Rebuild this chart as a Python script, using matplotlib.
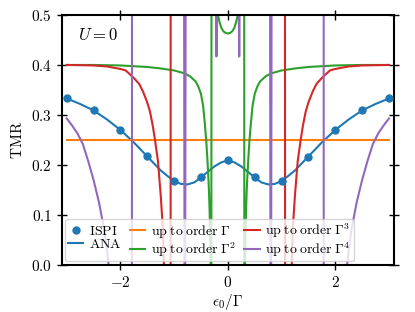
import matplotlib
matplotlib.use('Agg')
import matplotlib.pyplot as plt
from matplotlib.ticker import FuncFormatter

plt.rcParams['font.family'] = 'serif'
plt.rcParams['font.serif'] = ['cmr10']
plt.rcParams['mathtext.fontset'] = 'cm'
plt.rcParams['axes.unicode_minus'] = False

# --- данные ---
ispi_x = [-3.0, -2.5, -2.0, -1.5, -1.0, -0.5, 0.0, 0.5, 1.0, 1.5, 2.0, 2.5, 3.0]
ispi_y = [0.333, 0.309, 0.270, 0.217, 0.167, 0.175, 0.209, 0.175, 0.167, 0.216, 0.270, 0.309, 0.333]

ana_x = [-3.0, -2.75, -2.5, -2.25, -2.0, -1.75, -1.5, -1.25, -1.125, -1.0, -0.875, -0.75, -0.625,
         -0.5, -0.375, -0.25, -0.125, 0.0, 0.125, 0.25, 0.375, 0.5, 0.625, 0.75, 0.875, 1.0,
         1.125, 1.25, 1.5, 1.75, 2.0, 2.25, 2.5, 2.75, 3.0]
ana_y = [0.333, 0.322, 0.309, 0.291, 0.270, 0.245, 0.217, 0.189, 0.178, 0.168, 0.162, 0.161, 0.165,
         0.175, 0.186, 0.197, 0.205, 0.209, 0.205, 0.197, 0.186, 0.175, 0.165, 0.161, 0.162, 0.168,
         0.178, 0.189, 0.217, 0.245, 0.270, 0.291, 0.309, 0.322, 0.333]

o1_x = [-3.0, 3.0]
o1_y = [0.25, 0.25]

o2_x = [-3.0, -2.5, -2.0, -1.5, -1.25, -1.0, -0.8, -0.7, -0.6, -0.55, -0.5, -0.46, -0.43, -0.40,
        -0.38, -0.36, -0.35, -0.34, -0.33, -0.32, -0.31, -0.30, -0.25, -0.2, -0.186, -0.15, -0.12,
        -0.08, -0.04, 0.0, 0.04, 0.08, 0.12, 0.15, 0.186, 0.2, 0.25, 0.30, 0.31, 0.32, 0.33, 0.34,
        0.35, 0.36, 0.38, 0.40, 0.43, 0.46, 0.5, 0.55, 0.6, 0.7, 0.8, 1.0, 1.25, 1.5, 2.0, 2.5, 3.0]
o2_y = [0.400, 0.400, 0.399, 0.396, 0.393, 0.389, 0.383, 0.377, 0.367, 0.357, 0.342, 0.318, 0.285,
        0.245, 0.21, 0.17, 0.145, 0.11, 0.07, 0.0, -1.0, 2.0, 0.75, 0.54, 0.5, 0.484, 0.474,
        0.467, 0.464, 0.463, 0.464, 0.467, 0.474, 0.484, 0.5, 0.54, 0.75, 2.0, -1.0, 0.0, 0.07, 0.11,
        0.145, 0.17, 0.21, 0.245, 0.285, 0.318, 0.342, 0.357, 0.367, 0.377, 0.383, 0.389, 0.393,
        0.396, 0.399, 0.400, 0.400]

o3_x = [-3.0, -2.5, -2.25, -2.0, -1.9, -1.75, -1.65, -1.58, -1.5, -1.45, -1.40, -1.36, -1.30,
        -1.25, -1.21, -1.19, -1.12, -1.07, -1.06, -1.0, 0.0, 1.0, 1.06, 1.07, 1.12, 1.19, 1.21,
        1.25, 1.30, 1.36, 1.40, 1.45, 1.5, 1.58, 1.65, 1.75, 1.9, 2.0, 2.25, 2.5, 3.0]
o3_y = [0.400, 0.399, 0.397, 0.392, 0.389, 0.374, 0.362, 0.347, 0.325, 0.307, 0.280, 0.253, 0.207,
        0.140, 0.074, 0.0, -0.5, -3.0, 3.0, 1.0, 0.8, 1.0, 3.0, -3.0, -0.5, 0.0, 0.074,
        0.140, 0.207, 0.253, 0.280, 0.307, 0.325, 0.347, 0.362, 0.374, 0.389, 0.392, 0.397, 0.399, 0.400]

o4_x = [-3.0, -2.9, -2.8, -2.7, -2.6, -2.5, -2.4, -2.3, -2.25, -2.22, -2.1, -1.95, -1.79, -1.78,
        -1.3, -0.815, -0.805, -0.795, -0.785, -0.5, -0.222, -0.212, -0.202, 0.0, 0.202, 0.212,
        0.222, 0.5, 0.785, 0.795, 0.805, 0.815, 1.3, 1.78, 1.79, 1.95, 2.1, 2.22, 2.25, 2.3, 2.4,
        2.5, 2.6, 2.7, 2.8, 2.9, 3.0]
o4_y = [0.293, 0.279, 0.263, 0.242, 0.208, 0.170, 0.126, 0.070, 0.030, 0.0, -0.15, -0.6, -3.0, 3.0,
        1.0, 0.6, -0.1, -0.1, 0.6, 1.0, 0.55, 0.417, 0.55, 1.0, 0.55, 0.417,
        0.55, 1.0, 0.6, -0.1, -0.1, 0.6, 1.0, 3.0, -3.0, -0.6, -0.15, 0.0, 0.030, 0.070, 0.126,
        0.170, 0.208, 0.242, 0.263, 0.279, 0.293]

fig = plt.figure(figsize=(4.15, 3.12), dpi=100)
ax = fig.add_axes([0.149, 0.151, 0.8, 0.801])

ax.plot(ispi_x, ispi_y, 'o', color='C0', markersize=5, label=r'$\mathrm{ISPI}$', zorder=3)
ax.plot(ana_x, ana_y, '-', color='C0', lw=1.5, label=r'$\mathrm{ANA}$')
ax.plot(o1_x, o1_y, '-', color='C1', lw=1.5, label=r'$\mathrm{up\;to\;order}\;\Gamma$')
ax.plot(o2_x, o2_y, '-', color='C2', lw=1.5, label=r'$\mathrm{up\;to\;order}\;\Gamma^2$')
ax.plot(o3_x, o3_y, '-', color='C3', lw=1.5, label=r'$\mathrm{up\;to\;order}\;\Gamma^3$')
ax.plot(o4_x, o4_y, '-', color='C4', lw=1.5, label=r'$\mathrm{up\;to\;order}\;\Gamma^4$')

ax.set_xlim(-3.09, 3.09)
ax.set_ylim(0.0, 0.5)
ax.set_xticks([-2, 0, 2])
ax.set_yticks([0.0, 0.1, 0.2, 0.3, 0.4, 0.5])
ax.xaxis.set_major_formatter(FuncFormatter(lambda v, p: r'$%d$' % round(v)))
ax.yaxis.set_major_formatter(FuncFormatter(lambda v, p: r'$%.1f$' % v))
ax.tick_params(direction='inout', length=7, width=1, labelsize=11,
               top=True, right=True)
for s in ax.spines.values():
    s.set_linewidth(1.5)

ax.set_xlabel(r'$\epsilon_0/\Gamma$', fontsize=11, labelpad=2)
ax.set_ylabel(r'$\mathrm{TMR}$', fontsize=11)
ax.text(0.11, 0.92, r'$U = 0$', transform=ax.transAxes, fontsize=12,
        ha='center', va='center')

ax.legend(loc='lower left', ncol=3, fontsize=10, handlelength=1.1, handletextpad=0.4,
          columnspacing=0.6, labelspacing=0.0, borderpad=0.2, borderaxespad=0.25,
          numpoints=1)

fig.savefig('out.png', dpi=100)
